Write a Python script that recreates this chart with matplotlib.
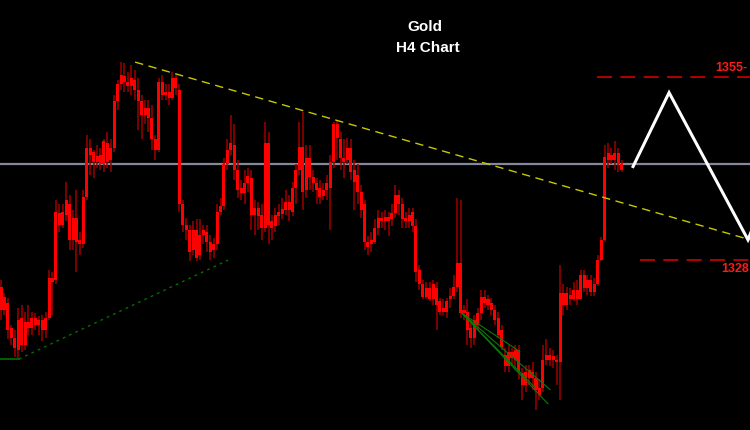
import numpy as np
import matplotlib
matplotlib.use("Agg")
import matplotlib.pyplot as plt

# ---- data (price units) ----
opens = [1320.7,1322.6,1321.7,1318.0,1316.5,1314.8,1319.5,1315.5,1318.9,1318.0,
         1319.5,1318.5,1319.2,1317.7,1319.5,1325.4,1325.1,1335.0,1333.2,1334.7,
         1336.2,1331.0,1334.2,1331.0,1330.3,1337.3,1344.6,1344.0,1342.5,1343.5,
         1342.1,1345.3,1342.8,1344.6,1351.4,1353.9,1355.2,1354.2,1353.7,1354.6,
         1353.1,1351.4,1349.4,1350.5,1349.0,1345.8,1344.3,1354.3,1352.4,1352.8,
         1351.9,1354.9,1353.1,1336.2,1333.2,1332.5,1329.5,1332.5,1328.8,1331.7,
         1332.2,1330.6,1329.5,1330.3,1335.1,1336.0,1342.1,1344.3,1345.0,1341.3,
         1338.7,1337.9,1339.4,1340.1,1334.7,1335.7,1334.7,1332.8,1345.3,1333.7,
         1333.1,1334.5,1334.8,1335.4,1336.5,1335.1,1338.7,1341.3,1344.7,1338.4,
         1343.1,1340.3,1339.4,1338.7,1337.5,1338.4,1338.7,1342.5,1348.0,1345.8,
         1343.1,1342.8,1344.6,1341.3,1340.6,1338.1,1336.2,1330.7,1330.3,1330.7,
         1332.8,1334.2,1333.7,1334.4,1334.0,1335.0,1337.6,1336.2,1334.2,1333.7,
         1335.1,1333.1,1326.6,1324.4,1322.6,1323.9,1322.2,1323.9,1321.9,1320.4,
         1320.4,1322.2,1322.7,1324.1,1327.5,1320.2,1320.4,1318.0,1316.5,1318.5,
         1320.2,1322.6,1322.2,1321.7,1320.7,1319.5,1317.7,1314.0,1312.4,1314.5,
         1313.3,1314.8,1311.4,1309.6,1311.8,1310.6,1310.6,1309.2,1309.2,1313.3,
         1314.0,1313.3,1313.3,1312.9,1323.2,1321.4,1322.9,1322.2,1323.6,1322.2,
         1325.8,1323.9,1325.1,1323.3,1324.5,1328.0,1331.0,1342.8,1343.5,1342.8,
         1343.8,1342.1]
closes = [1324.1,1320.7,1317.7,1316.5,1315.1,1319.2,1315.5,1318.9,1318.0,1319.5,
          1318.5,1319.2,1317.7,1319.5,1325.4,1324.8,1335.1,1333.2,1335.1,1336.9,
          1331.0,1334.2,1330.7,1330.3,1337.3,1344.6,1343.5,1342.5,1343.4,1342.1,
          1345.5,1342.5,1344.6,1351.4,1353.9,1355.3,1354.2,1353.7,1354.9,1353.1,
          1351.4,1349.4,1350.5,1349.0,1345.8,1344.3,1354.3,1352.4,1352.8,1351.9,
          1354.9,1353.4,1336.2,1333.2,1332.5,1329.2,1332.5,1328.3,1331.7,1332.5,
          1330.6,1329.2,1330.3,1335.1,1336.0,1342.1,1344.3,1345.3,1341.3,1338.4,
          1337.9,1339.4,1340.4,1334.7,1335.7,1334.5,1332.8,1345.3,1333.2,1332.8,
          1334.7,1335.1,1335.6,1336.5,1335.4,1338.7,1341.3,1344.7,1338.1,1343.1,
          1340.3,1339.4,1338.4,1337.3,1338.4,1339.4,1342.5,1348.0,1346.0,1343.1,
          1342.5,1344.6,1341.0,1339.5,1338.1,1335.4,1330.7,1330.0,1331.0,1332.8,
          1334.2,1333.7,1334.4,1333.8,1335.0,1337.6,1336.2,1334.0,1333.7,1334.7,
          1333.1,1326.3,1324.4,1322.6,1323.9,1322.2,1324.5,1321.4,1320.4,1321.0,
          1321.9,1322.7,1324.1,1327.5,1320.2,1320.7,1317.7,1316.5,1319.2,1320.2,
          1322.6,1321.7,1321.4,1320.7,1319.2,1317.0,1315.2,1312.4,1314.5,1313.6,
          1314.8,1311.5,1309.6,1311.5,1310.6,1311.5,1308.9,1308.1,1313.3,1314.0,
          1313.3,1313.9,1312.9,1323.2,1321.4,1323.2,1322.2,1323.6,1322.2,1325.8,
          1323.9,1325.1,1323.3,1324.5,1328.0,1331.0,1343.2,1343.8,1342.8,1343.8,
          1342.1,1341.3]
highs = [1325.1,1323.2,1322.4,1318.5,1317.7,1321.0,1321.4,1320.4,1321.4,1320.4,
         1320.2,1319.8,1319.9,1320.4,1326.6,1326.3,1336.9,1336.2,1336.2,1339.5,
         1337.6,1335.4,1338.4,1332.2,1338.4,1346.5,1345.8,1344.3,1345.0,1344.6,
         1345.8,1346.9,1345.8,1352.4,1354.6,1357.2,1357.0,1355.8,1356.8,1356.1,
         1354.9,1352.4,1351.6,1351.6,1350.9,1346.5,1354.9,1355.3,1353.9,1353.9,
         1355.8,1355.3,1353.9,1336.9,1334.2,1333.2,1333.7,1334.0,1334.0,1333.2,
         1333.2,1331.7,1331.3,1336.2,1337.2,1343.1,1345.8,1349.4,1348.0,1342.8,
         1339.8,1341.3,1341.6,1341.3,1336.9,1336.6,1336.2,1348.4,1346.9,1334.7,
         1335.7,1336.2,1337.2,1338.4,1337.6,1339.5,1342.1,1348.4,1349.9,1345.0,
         1345.0,1341.3,1340.1,1339.8,1339.4,1340.6,1343.5,1348.4,1348.7,1346.9,
         1345.8,1346.0,1345.8,1342.8,1342.1,1339.1,1336.9,1331.6,1332.2,1334.0,
         1335.4,1335.1,1335.4,1335.1,1336.2,1339.1,1338.4,1337.2,1335.1,1335.7,
         1335.7,1334.0,1327.3,1325.1,1324.7,1324.8,1325.1,1324.8,1322.4,1322.2,
         1322.4,1323.9,1325.8,1337.2,1336.9,1321.4,1322.2,1319.2,1319.9,1321.0,
         1323.6,1323.6,1322.9,1322.4,1321.4,1320.4,1318.5,1315.1,1315.5,1315.1,
         1315.5,1315.5,1312.1,1312.6,1312.6,1313.0,1311.5,1310.4,1315.5,1316.3,
         1315.1,1314.8,1314.0,1327.3,1324.4,1324.1,1323.9,1324.7,1325.1,1326.6,
         1326.6,1325.8,1325.8,1325.4,1328.8,1331.4,1345.0,1345.3,1344.6,1345.5,
         1344.6,1342.8]
lows = [1319.2,1319.9,1316.3,1315.5,1313.7,1313.6,1314.5,1314.8,1317.0,1317.0,
        1317.7,1317.0,1316.0,1316.5,1319.2,1319.9,1324.4,1332.2,1332.8,1333.7,
        1329.5,1329.5,1326.3,1328.8,1329.8,1336.9,1340.6,1340.1,1341.6,1341.3,
        1341.0,1341.6,1341.0,1344.0,1350.2,1353.1,1352.8,1352.8,1352.4,1351.6,
        1347.2,1345.8,1348.0,1346.9,1344.3,1342.8,1344.0,1351.6,1351.6,1350.9,
        1351.6,1352.4,1335.1,1332.2,1331.0,1327.8,1328.8,1327.8,1328.0,1330.3,
        1329.2,1328.0,1328.3,1329.5,1334.7,1335.4,1341.3,1343.5,1339.8,1337.2,
        1336.9,1336.2,1338.1,1332.5,1331.7,1332.5,1331.0,1332.2,1330.3,1331.0,
        1332.2,1333.2,1334.0,1334.7,1333.7,1334.5,1336.2,1340.6,1335.4,1337.2,
        1338.4,1338.1,1336.2,1336.2,1336.9,1336.9,1332.5,1341.6,1342.8,1341.3,
        1340.1,1342.1,1339.8,1335.4,1336.2,1334.2,1329.5,1328.8,1329.2,1330.3,
        1331.7,1332.8,1332.5,1331.6,1333.1,1334.2,1334.7,1332.8,1332.8,1332.8,
        1332.2,1324.8,1323.6,1322.2,1322.2,1321.9,1321.4,1317.7,1319.9,1319.9,
        1319.5,1321.0,1322.2,1323.3,1319.5,1319.2,1315.5,1315.1,1315.5,1317.7,
        1319.2,1321.0,1320.7,1319.9,1318.5,1316.5,1314.8,1311.5,1311.5,1312.6,
        1311.8,1310.4,1307.4,1308.6,1309.6,1308.9,1305.9,1307.4,1308.6,1312.6,
        1312.4,1312.1,1309.6,1307.4,1319.9,1320.7,1321.4,1321.9,1321.4,1322.2,
        1323.3,1322.9,1322.7,1322.7,1324.2,1327.8,1330.7,1341.6,1342.1,1341.3,
        1341.0,1341.0]

current_price = 1342.1
upper_level = 1355
lower_level = 1328
upper_label = "1355-"
lower_label = "1328"
# yellow resistance trendline (candle index, price)
res_x = [39.1, 218.4]
res_y = [1357.2, 1331.0]
# green support trendline
sup_flat_x = [-0.5, 5.2]
sup_flat_y = [1313.4, 1313.4]
sup_x = [5.2, 66.2]
sup_y = [1313.4, 1328.0]
# green fan lines
fan_origin = (134.3, 1320.2)
fan_end_x = [151.3, 160.1, 155.7, 159.5]
fan_end_y = [1314.5, 1308.9, 1309.2, 1306.8]
# white projection path
proj_x = [184.3, 194.8, 217.8, 219.0]
proj_y = [1341.8, 1352.7, 1331.0, 1332.5]
upper_start = 173.8
lower_start = 186.3

# ---- plot ----
fig = plt.figure(figsize=(7.5, 4.3), dpi=100, facecolor="black")
ax = fig.add_axes([0, 0, 1, 1], facecolor="black")
ax.set_xlim(-0.3, 218.4)
ax.set_ylim(1302.94, 1366.36)
ax.axis("off")

n = len(opens)
xs = np.arange(n)
o = np.array(opens); c = np.array(closes)
h = np.array(highs); l = np.array(lows)

ax.vlines(xs, l, h, color="#a00000", linewidth=1.1, zorder=2)
bottom = np.minimum(o, c)
height = np.maximum(np.abs(c - o), 0.15)
ax.bar(xs, height, bottom=bottom, width=0.88, color="#ff0000", edgecolor="none",
       antialiased=False, zorder=3)

# current price line
ax.axhline(current_price, color="#85889a", linewidth=1.6, zorder=1)

# trendlines
ax.plot(res_x, res_y, color="#c8c800", linewidth=1.0, dashes=(6, 4), zorder=4)
ax.plot(sup_flat_x, sup_flat_y, color="#007000", linewidth=1.2, zorder=4)
ax.plot(sup_x, sup_y, color="#007000", linewidth=1.0, dashes=(2, 3), zorder=4)
for ex, ey in zip(fan_end_x, fan_end_y):
    ax.plot([fan_origin[0], ex], [fan_origin[1], ey], color="#0a7a0a", linewidth=0.8, zorder=4)

# levels
ax.plot([upper_start, 218.4], [upper_level, upper_level], color="#d00000",
        linewidth=1.2, dashes=(9, 5), zorder=4)
ax.plot([lower_start, 218.4], [lower_level, lower_level], color="#d00000",
        linewidth=1.2, dashes=(9, 5), zorder=4)
ax.text(0.997, upper_level + 0.5, upper_label, color="#ff1a1a", fontsize=9,
        fontweight="bold", family="Liberation Sans", ha="right", va="bottom",
        transform=ax.get_yaxis_transform())
ax.text(0.999, lower_level - 0.4, lower_label, color="#ff1a1a", fontsize=9,
        fontweight="bold", family="Liberation Sans", ha="right", va="top",
        transform=ax.get_yaxis_transform())

# projection
ax.plot(proj_x, proj_y, color="white", linewidth=2.2, zorder=5,
        solid_joinstyle="miter")

# title
fig.text(0.567, 0.937, "Gold", color="white", fontsize=11, fontweight="bold",
         family="Liberation Sans", ha="center", va="center")
fig.text(0.571, 0.888, "H4 Chart", color="white", fontsize=11, fontweight="bold",
         family="Liberation Sans", ha="center", va="center")

fig.savefig("out.png", dpi=100, facecolor="black")
